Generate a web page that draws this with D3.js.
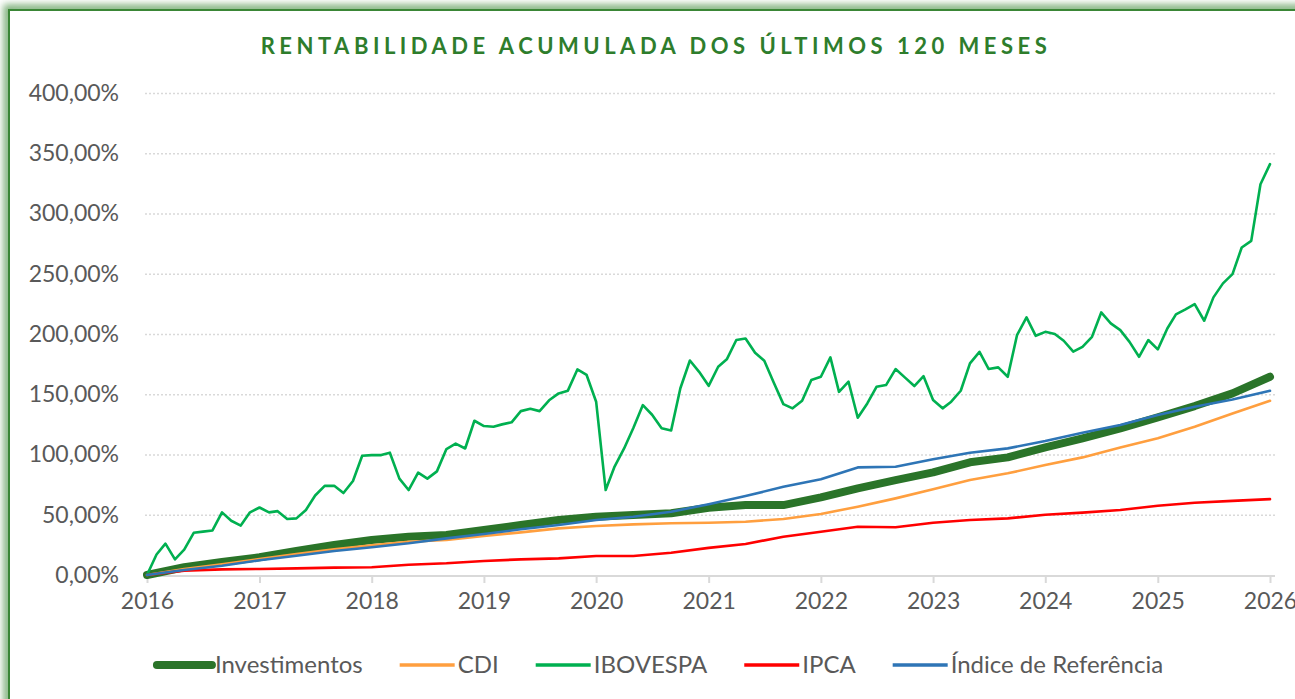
<!DOCTYPE html>
<html>
<head>
<meta charset="utf-8">
<script src="https://cdn.jsdelivr.net/npm/d3@7/dist/d3.min.js"></script>
<style>
  body { margin: 0; background: #fff; }
  svg { display: block; font-family: Lato, "Open Sans", sans-serif; }
</style>
</head>
<body>
<div class="chart"></div>
<script>
// monthly points, jan/2016 .. jan/2026
const firstMonth = new Date(2016, 0, 1);
const monthCount = 121;

const ibovespa = [
  0, 17, 26, 13, 21, 35, 36, 37, 52, 45, 41, 52,
  56, 52, 53, 46.5, 47, 54, 66, 74, 74, 68, 78, 99,
  99.5, 99.5, 101.5, 80, 70.5, 85, 80, 86, 104.5, 109, 105, 128,
  123.6, 123, 125, 126.7, 136, 138, 136, 145, 150.7, 153, 170.6, 166,
  143.8, 70.5, 90, 105, 122, 141, 133, 121.7, 120, 155, 178, 168.6,
  157, 172.8, 179, 195, 196.3, 184.4, 177.8, 159.5, 141.8, 138.3, 144.6, 161.8,
  164.5, 180.6, 152, 160.4, 130.5, 142.4, 156.2, 157.6, 170.9, 164, 156.8, 165,
  145.2, 138.3, 143.8, 152.9, 175.6, 185.2, 170.9, 172.3, 164.5, 199, 213.8, 198.5,
  201.8, 200, 194.4, 185.3, 189.4, 197.7, 217.9, 208.8, 203.2, 193.5, 181.1, 195,
  187.2, 204.6, 216.3, 220.4, 224.8, 211, 230.4, 242, 249.7, 271.8, 277.3, 324.3,
  341
];

// smoother series, read every 4 months
const sampleIdx = [0, 4, 8, 12, 16, 20, 24, 28, 32, 36, 40, 44, 48, 52, 56, 60,
  64, 68, 72, 76, 80, 84, 88, 92, 96, 100, 104, 108, 112, 116, 120];

const investimentos = [0, 6.4, 10.8, 14.7, 19.9, 24.9, 29, 31.8, 33.2, 37.3, 41.5, 45.6,
  48.4, 49.8, 51.2, 55.8, 58, 58, 64.4, 71.9, 78.8, 85.2, 93.5, 97.6, 105.9, 113.4,
  121.7, 130.8, 140.2, 150.7, 164.5];
const cdi = [0, 5, 8.9, 13.3, 17.4, 21.3, 24.6, 27.6, 29, 32.4, 35.4, 38.7, 40.6, 42,
  42.9, 43.3, 44.2, 46.5, 50.6, 56.7, 63.6, 71.1, 78.8, 84.4, 91.2, 97.6, 105.9,
  113.4, 123, 134.1, 144.6];
const ipca = [0, 3.6, 4.7, 5, 5.5, 6.1, 6.4, 8.5, 9.7, 11.6, 13, 13.8, 15.8, 15.8,
  18.5, 22.5, 25.7, 31.8, 35.9, 40.1, 39.6, 43.4, 45.6, 47, 50, 51.8, 54, 57.5, 60,
  61.5, 63];
const indiceRef = [0, 4.1, 7.7, 12.2, 16, 19.9, 23, 26.3, 30.4, 34, 37.9, 41.5, 45.6,
  48.4, 52.5, 58.7, 65.5, 73.2, 79.4, 89.3, 89.8, 96, 101.5, 105.1, 111.2, 118, 124.4,
  132.7, 139.6, 145.7, 152.9];

const yTicks = [0, 50, 100, 150, 200, 250, 300, 350, 400];
const title = "RENTABILIDADE ACUMULADA DOS ÚLTIMOS 120 MESES";

const allIdx = d3.range(monthCount);
const series = [
  { name: "Investimentos", idx: sampleIdx, values: investimentos, color: "#2A7429", width: 8 },
  { name: "CDI", idx: sampleIdx, values: cdi, color: "#FF9F3F", width: 2.6 },
  { name: "IBOVESPA", idx: allIdx, values: ibovespa, color: "#00B050", width: 2.6 },
  { name: "IPCA", idx: sampleIdx, values: ipca, color: "#FF0000", width: 2.6 },
  { name: "Índice de Referência", idx: sampleIdx, values: indiceRef, color: "#2E75B6", width: 2.6 }
];

const W = 1295, H = 699;
const ptBR = d3.formatLocale({ decimal: ",", thousands: ".", grouping: [3], currency: ["R$", ""] });
const fmt = ptBR.format(".2f");

const x = d3.scaleTime()
  .domain([firstMonth, d3.timeMonth.offset(firstMonth, 120)])
  .range([147, 1270]);

const y = d3.scaleLinear()
  .domain([0, 400])
  .range([575, 93]);

const svg = d3.select(".chart").append("svg")
  .attr("width", W)
  .attr("height", H);

const defs = svg.append("defs");
defs.append("filter")
  .attr("id", "glow")
  .attr("x", "-5%").attr("y", "-5%").attr("width", "110%").attr("height", "110%")
  .append("feGaussianBlur")
  .attr("stdDeviation", 3.5);

// frame with soft green glow
svg.append("rect")
  .attr("x", 8).attr("y", 9)
  .attr("width", 1310).attr("height", 720)
  .attr("fill", "none")
  .attr("stroke", "#5E9E5A")
  .attr("stroke-width", 9)
  .attr("stroke-opacity", 0.8)
  .attr("filter", "url(#glow)");
svg.append("rect")
  .attr("x", 9).attr("y", 10)
  .attr("width", 1310).attr("height", 720)
  .attr("fill", "#fff")
  .attr("stroke", "#3A8636")
  .attr("stroke-width", 2);

svg.append("text")
  .attr("x", 656)
  .attr("y", 54)
  .attr("text-anchor", "middle")
  .attr("fill", "#2E7D2C")
  .style("font-size", "22px")
  .style("font-weight", "bold")
  .style("letter-spacing", "4.5px")
  .text(title);

// gridlines + y labels
const yAxis = d3.axisLeft(y)
  .tickValues(yTicks)
  .tickSize(-(1275 - 145))
  .tickPadding(26)
  .tickFormat(d => fmt(d) + "%");

const gy = svg.append("g")
  .attr("transform", "translate(145,0)")
  .call(yAxis);
gy.select(".domain").remove();
gy.selectAll(".tick line")
  .attr("stroke", "#D9D9D9")
  .attr("stroke-width", 1.5)
  .attr("stroke-dasharray", "2,2")
  .filter(d => d === 0).remove();
gy.selectAll(".tick text")
  .attr("fill", "#595959")
  .style("font-size", "23px")
  .style("font-family", "Lato, sans-serif");

// x axis
const xAxis = d3.axisBottom(x)
  .ticks(d3.timeYear.every(1))
  .tickFormat(d3.timeFormat("%Y"))
  .tickSize(7)
  .tickSizeOuter(0)
  .tickPadding(10);

const gx = svg.append("g")
  .attr("transform", "translate(0,576)")
  .call(xAxis);
gx.select(".domain")
  .attr("d", "M145,0H1275")
  .attr("stroke", "#D9D9D9")
  .attr("stroke-width", 2);
gx.selectAll(".tick line")
  .attr("stroke", "#D9D9D9")
  .attr("stroke-width", 2);
gx.selectAll(".tick text")
  .attr("fill", "#595959")
  .style("font-size", "23px")
  .style("font-family", "Lato, sans-serif");

// lines
const line = d3.line()
  .x(d => x(d3.timeMonth.offset(firstMonth, d[0])))
  .y(d => y(d[1]));

svg.append("g").attr("class", "series")
  .selectAll("path")
  .data(series)
  .join("path")
  .attr("fill", "none")
  .attr("stroke", d => d.color)
  .attr("stroke-width", d => d.width)
  .attr("stroke-linejoin", "round")
  .attr("stroke-linecap", "round")
  .attr("d", d => line(d.idx.map((m, i) => [m, d.values[i]])));

// legend
const legend = svg.append("g").attr("class", "legend");
const items = legend.selectAll("g")
  .data(series)
  .join("g");
items.append("line")
  .attr("x1", 0).attr("x2", 55)
  .attr("y1", 0).attr("y2", 0)
  .attr("stroke", d => d.color)
  .attr("stroke-width", d => d.width === 8 ? 8 : 3.5)
  .attr("stroke-linecap", d => d.width === 8 ? "round" : "butt");
items.append("text")
  .attr("x", 58)
  .attr("dy", "0.35em")
  .attr("fill", "#595959")
  .style("font-size", "24px")
  .text(d => d.name);

let pos = 0;
const offsets = [];
items.each(function () {
  offsets.push(pos);
  const w = d3.select(this).select("text").node().getComputedTextLength();
  pos += 58 + w + 37;
});
const total = pos - 37;
const left = 660 - total / 2;
items.attr("transform", (d, i) => `translate(${left + offsets[i]},665)`);
</script>
</body>
</html>
